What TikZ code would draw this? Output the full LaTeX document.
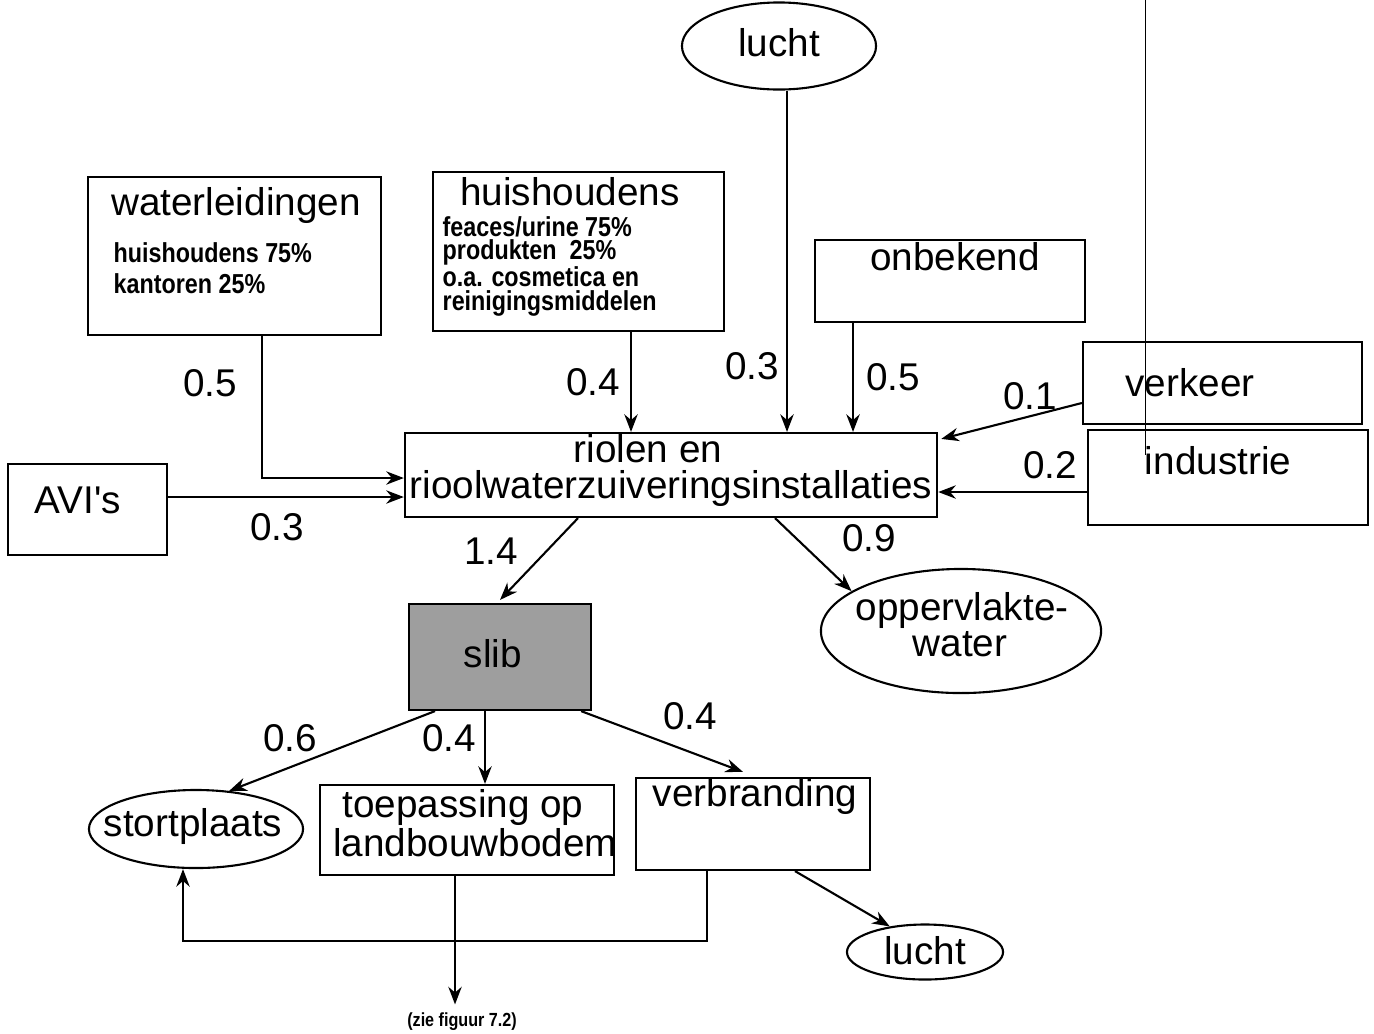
\documentclass[tikz,border=0pt]{standalone}
\usepackage{fontspec}
\setmainfont{Liberation Sans}
\newfontfamily\narrowfont[FakeStretch=0.85]{Liberation Sans}
\usetikzlibrary{arrows.meta,shapes.geometric,calc}

\tikzset{
  box/.style={draw, line width=0.6pt, inner sep=0pt, rectangle},
  oval/.style={draw, line width=0.6pt, inner sep=0pt, ellipse},
  lab/.style={inner sep=0pt, font=\fontsize{11}{12}\selectfont},
  num/.style={inner sep=0pt, font=\fontsize{11}{12}\selectfont},
  small/.style={inner sep=0pt, anchor=west, font=\narrowfont\bfseries\fontsize{7.8}{9}\selectfont},
  flow/.style={line width=0.6pt, -{Stealth[length=5pt,width=3.8pt]}},
  plain/.style={line width=0.6pt}
}

\begin{document}
\begin{tikzpicture}[x=0.01cm, y=-0.01cm]
\useasboundingbox (0,0) rectangle (1374,1033);

% thin vertical rule at the right
\draw[line width=0.3pt] (1145,0) -- (1145,455);

% ---- source boxes ----
\node[box, minimum width=2.93cm, minimum height=1.58cm] (wl) at (234.5,256) {};
\node[lab] (wlt) at (236,205) {waterleidingen};
\node[small] (wl1) at (113,253) {huishoudens 75\%};
\node[small] (wl2) at (113,284) {kantoren 25\%};

\node[box, minimum width=2.91cm, minimum height=1.59cm] (hh) at (578.5,251.5) {};
\node[lab] (hht) at (570,192) {huishoudens};
\node[small] (hh1) at (442,227) {feaces/urine 75\%};
\node[small] (hh2) at (442,252) {produkten\ \ 25\%};
\node[small] (hh3) at (442,277) {o.a. cosmetica en};
\node[small] (hh4) at (442,303) {reinigingsmiddelen};

\node[oval, minimum width=1.94cm, minimum height=0.87cm] (lt) at (779,46) {};
\node[lab] (ltt) at (779,43) {lucht};

\node[box, minimum width=2.70cm, minimum height=0.82cm] (onb) at (950,281) {};
\node[lab] (onbt) at (955,257) {onbekend};

\node[box, minimum width=2.79cm, minimum height=0.82cm] (verk) at (1222.5,383) {};
\node[lab] (verkt) at (1190,383) {verkeer};

\node[box, minimum width=2.80cm, minimum height=0.95cm] (ind) at (1228,477.5) {};
\node[lab] (indt) at (1218,461) {industrie};

\node[box, minimum width=1.59cm, minimum height=0.91cm] (avi) at (87.5,509.5) {};
\node[lab] (avit) at (78,500) {AVI\textquotesingle s};

% ---- central treatment ----
\node[box, minimum width=5.32cm, minimum height=0.84cm] (rio) at (671,475) {};
\node[lab, text depth=0pt] (riot1) at (648,448) {riolen en};
\node[lab] (riot2) at (671,488) {rioolwaterzuiveringsinstallaties};

\node[box, fill=black!38, minimum width=1.82cm, minimum height=1.06cm] (slib) at (500,657) {};
\node[lab] (slibt) at (493,654) {slib};

\node[oval, minimum width=2.80cm, minimum height=1.24cm] (opp) at (961,631) {};
\node[lab] (oppt1) at (962,610) {oppervlakte-};
\node[lab, text depth=0pt] (oppt2) at (960,644) {water};

% ---- sludge destinations ----
\node[oval, minimum width=2.14cm, minimum height=0.78cm] (stort) at (196,829) {};
\node[lab] (stortt) at (193,826) {stortplaats};

\node[box, minimum width=2.94cm, minimum height=0.90cm] (toep) at (467,830) {};
\node[lab] (toept1) at (463,807) {toepassing op};
\node[lab] (toept2) at (475,843) {landbouwbodem};

\node[box, minimum width=2.34cm, minimum height=0.92cm] (verb) at (753,824) {};
\node[lab] (verbt) at (755,796) {verbranding};

\node[oval, minimum width=1.56cm, minimum height=0.55cm] (lb) at (925,952) {};
\node[lab] (lbt) at (925,951) {lucht};

\node[inner sep=0pt, font=\narrowfont\bfseries\fontsize{5.4}{6}\selectfont] (zie) at (462,1022) {(zie figuur 7.2)};

% ---- flows into the sewer system ----
\draw[flow] ($(wl.south)+(27.5,0)$) |- ($(rio.west)+(0,3)$);
\coordinate (hhs) at ($(hh.south)+(52.5,0)$);
\draw[flow] (hhs) -- (hhs |- rio.north);
\coordinate (lts) at ($(lt.south)+(8,0)$);
\draw[flow] (lts) -- (lts |- rio.north);
\coordinate (onbs) at ($(onb.south)+(-97,0)$);
\draw[flow] (onbs) -- (onbs |- rio.north);
\draw[flow] ($(verk.west)+(0,20)$) -- ($(rio.north east)+(3,7)$);
\coordinate (inds) at ($(ind.west)+(0,14.5)$);
\draw[flow] (inds) -- (inds -| rio.east);
\coordinate (avis) at ($(avi.east)+(0,-12.5)$);
\draw[flow] (avis) -- (avis -| rio.west);

% ---- flows out of the sewer system ----
\draw[flow] ($(rio.south)+(-93,0)$) -- ($(slib.north)+(0,-3)$);
\draw[flow] ($(rio.south)+(104,0)$) -- (opp.160);

% ---- sludge flows ----
\draw[flow] ($(slib.south)+(-65,0)$) -- (stort.49);
\coordinate (slt) at ($(slib.south)+(-15,0)$);
\draw[flow] (slt) -- (slt |- toep.north);
\draw[flow] ($(slib.south east)+(-11,0)$) -- ($(verb.north)+(-10,-5)$);
\draw[flow] ($(verb.south)+(42,0)$) -- (lb.144);
\coordinate (tps) at ($(toep.south)+(-12,0)$);
\draw[flow] (tps) -- ($(tps |- zie.north)+(0,-8)$);
\draw[flow] ($(verb.south)+(-46,0)$) -- ++(0,70) -| ($(stort.south)+(-13,0)$);

% ---- flow quantities ----
\node[num] (n1) at (210,383) {0.5};
\node[num] (n2) at (593,382) {0.4};
\node[num] (n3) at (752,366) {0.3};
\node[num] (n4) at (893,377) {0.5};
\node[num] (n5) at (1030,396) {0.1};
\node[num] (n6) at (1050,465) {0.2};
\node[num] (n7) at (277,527) {0.3};
\node[num] (n8) at (491,551) {1.4};
\node[num] (n9) at (869,538) {0.9};
\node[num] (n10) at (290,738) {0.6};
\node[num] (n11) at (449,738) {0.4};
\node[num] (n12) at (690,716) {0.4};
\end{tikzpicture}
\end{document}
